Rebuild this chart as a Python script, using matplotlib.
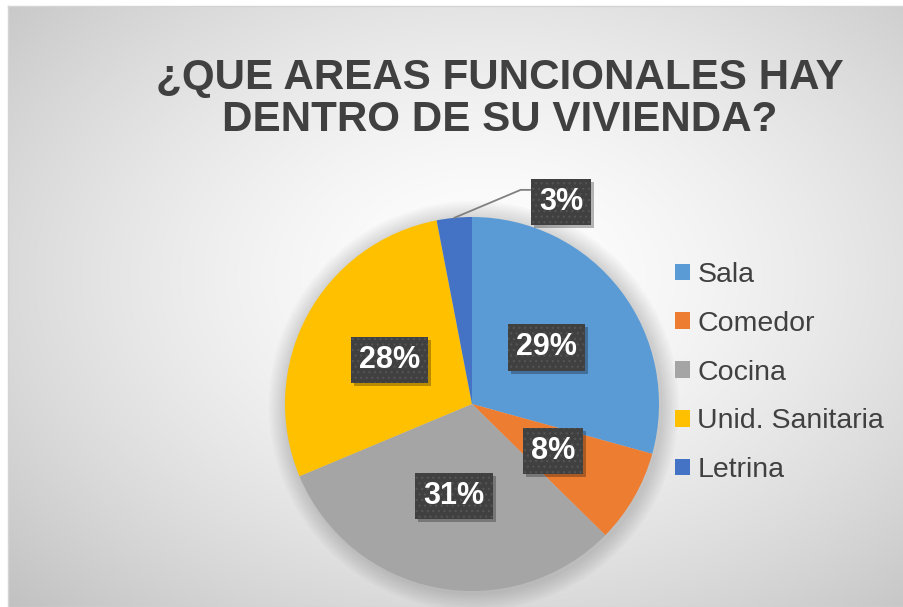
import numpy as np
import matplotlib.pyplot as plt
import matplotlib.transforms as mtransforms
from matplotlib.patches import Circle, Rectangle

plt.rcParams['font.family'] = ['Liberation Sans', 'DejaVu Sans']
plt.rcParams['hatch.linewidth'] = 0.9

categorias = ["Sala", "Comedor", "Cocina", "Unid. Sanitaria", "Letrina"]
porcentajes = [29, 8, 31, 28, 3]
etiquetas = ["29%", "8%", "31%", "28%", "3%"]
colores = ["#5B9BD5", "#ED7D31", "#A5A5A5", "#FFC000", "#4472C4"]
titulo = "¿QUE AREAS FUNCIONALES HAY\nDENTRO DE SU VIVIENDA?"

W, H = 904, 607
fig = plt.figure(figsize=(W / 100, H / 100), dpi=100)

# fondo con degradado radial
fondo = fig.add_axes([8 / W, 0, (W - 8) / W, (H - 6) / H])
yy, xx = np.mgrid[0:H - 6, 0:W - 8]
r = np.sqrt(((xx - 480) / 460.0) ** 2 + ((yy - 270) / 320.0) ** 2) / np.sqrt(2)
gris = 1 - 0.23 * np.clip(r, 0, 1.2) ** 1.5
fondo.imshow(np.dstack([gris, gris, gris]), aspect='auto', interpolation='bilinear')
fondo.set_xticks([])
fondo.set_yticks([])
for s in fondo.spines.values():
    s.set_color('#d4d4d4')
    s.set_linewidth(1)

# titulo
fig.text(500 / W, 1 - 58 / H, titulo, ha='center', va='top', fontsize=30.3,
         fontweight='bold', color='#404040', linespacing=1.06)

# pastel
cx, cy, rad = 472, 404, 187
ax = fig.add_axes([(cx - rad) / W, (H - cy - rad) / H, 2 * rad / W, 2 * rad / H])
for k in range(8):
    ax.add_patch(Circle((0.01, -0.01), 1.0 + 0.012 * (k + 1), color='black',
                        alpha=0.018, lw=0, zorder=0, clip_on=False))
cunas, _ = ax.pie(porcentajes, colors=colores, startangle=90, counterclock=False,
                  radius=1, wedgeprops=dict(linewidth=0))
ax.set_xlim(-1, 1)
ax.set_ylim(-1, 1)
ax.set_aspect('equal')

textos = []


def etiqueta(x, y, txt):
    t = ax.text(x, y, txt, ha='center', va='center', fontsize=22, fontweight='bold',
                color='white', zorder=5, clip_on=False,
                bbox=dict(boxstyle='square,pad=0.27', facecolor='#404040',
                          edgecolor='#535353', linewidth=0, hatch='...'))
    textos.append(t)


for cuna, txt in zip(cunas[:-1], etiquetas[:-1]):
    ang = np.deg2rad((cuna.theta1 + cuna.theta2) / 2)
    etiqueta(0.5 * np.cos(ang), 0.5 * np.sin(ang), txt)

# etiqueta de Letrina fuera con linea guia
ult = cunas[-1]
ang = np.deg2rad((ult.theta1 + ult.theta2) / 2)
ax.plot([np.cos(ang), 0.26, 0.31], [np.sin(ang), 1.145, 1.145], color='#808080',
        lw=1.3, clip_on=False, zorder=3)
etiqueta(0.476, 1.08, etiquetas[-1])

# leyenda
ley = fig.legend(cunas, categorias, loc='upper left',
                 bbox_to_anchor=(675 / W, 1 - 262 / H), frameon=False,
                 fontsize=20.5, handlelength=0.53, handleheight=0.53,
                 handletextpad=0.26, labelspacing=0.8, borderpad=0, borderaxespad=0)
for t in ley.get_texts():
    t.set_color('#404040')

# sombras de las cajas de etiquetas
fig.canvas.draw()
for t in textos:
    bb = t.get_bbox_patch().get_window_extent()
    ax.add_patch(Rectangle((bb.x0 + 3, bb.y0 - 3), bb.width, bb.height,
                           transform=mtransforms.IdentityTransform(),
                           facecolor='black', alpha=0.28, lw=0, zorder=4, clip_on=False))

fig.savefig('out.png', dpi=100)
